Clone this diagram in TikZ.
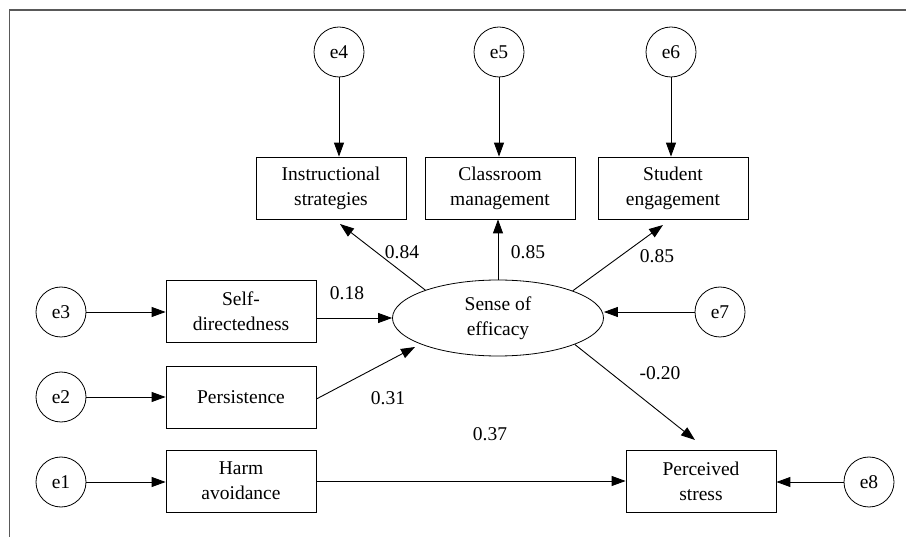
\documentclass[tikz,border=0pt]{standalone}
\usepackage{fontspec}
\setmainfont{Liberation Serif}
\usetikzlibrary{arrows.meta,shapes.geometric,calc}
\begin{document}
\begin{tikzpicture}[x=1pt,y=-1pt,
  every node/.style={font=\rmfamily\fontsize{19.5}{25}\selectfont},
  errc/.style={draw, circle, minimum size=50pt, inner sep=0pt, line width=0.8pt},
  obsbox/.style={draw, rectangle, minimum width=150pt, minimum height=62pt, align=center, inner sep=2pt, line width=0.8pt},
  latent/.style={draw, ellipse, minimum width=211pt, minimum height=76pt, align=center, inner sep=0pt, line width=0.8pt},
  arr/.style={-{Triangle[length=14pt,width=10pt]}, line width=0.9pt, draw=black},
  coef/.style={inner sep=1pt}
]
\useasboundingbox (0,0) rectangle (906,537);
\draw[black!65, line width=1.3pt] (906,10) -- (9.5,10) -- (9.5,537);

% error circles
\node[errc] (e4) at (339,52) {e4};
\node[errc] (e5) at (499,52) {e5};
\node[errc] (e6) at (671,52) {e6};
\node[errc] (e3) at (61,312) {e3};
\node[errc] (e2) at (61,397) {e2};
\node[errc] (e1) at (61,482) {e1};
\node[errc] (e7) at (720,312) {e7};
\node[errc] (e8) at (869,482) {e8};

% observed
\node[obsbox] (instr) at (331,188) {Instructional\\strategies};
\node[obsbox] (class) at (500,188) {Classroom\\management};
\node[obsbox] (stud) at (673,188) {Student\\engagement};
\node[obsbox] (self) at (241,311.5) {Self-\\directedness};
\node[obsbox] (pers) at (241,397) {Persistence};
\node[obsbox] (harm) at (241,481) {Harm\\avoidance};
\node[obsbox] (perc) at (701,481) {Perceived\\stress};

% latent
\node[latent] (eff) at (498,318) {Sense of\\efficacy};

% tip coordinates
\coordinate (tinstr) at (340,224);
\coordinate (tstud) at (663,225);
\coordinate (tperc) at (695,440);
\coordinate (teff) at (415,347);

% error arrows
\draw[arr] (e4.south) -- (e4.south |- instr.north);
\draw[arr] (e5.south) -- (e5.south |- class.north);
\draw[arr] (e6.south) -- (e6.south |- stud.north);
\draw[arr] (e3.east) -- (e3.east -| self.west);
\draw[arr] (e2.east) -- (e2.east -| pers.west);
\draw[arr] (e1.east) -- (e1.east -| harm.west);
\draw[arr] (e7.west) -- (e7.west -| eff.east);
\draw[arr] (e8.west) -- (e8.west -| perc.east);

% structural paths
\draw[arr] (eff.159.8) -- (tinstr);
\draw[arr] (eff.north) -- (eff.north |- class.south);
\draw[arr] (eff.20.5) -- (tstud);
\draw[arr] (self.east |- eff.west) -- (eff.west);
\draw[arr] ($(pers.east)+(0,2)$) -- (teff);
\draw[arr] (eff.-19.8) -- (tperc);
\draw[arr] (harm.east) -- (perc.west);

% coefficients
\node[coef] (c1) at (402,252) {0.84};
\node[coef] (c2) at (528,252) {0.85};
\node[coef] (c3) at (657,256) {0.85};
\node[coef] (c4) at (347,293) {0.18};
\node[coef] (c5) at (388,398) {0.31};
\node[coef] (c6) at (660,373) {-0.20};
\node[coef] (c7) at (490,434) {0.37};
\end{tikzpicture}
\end{document}
